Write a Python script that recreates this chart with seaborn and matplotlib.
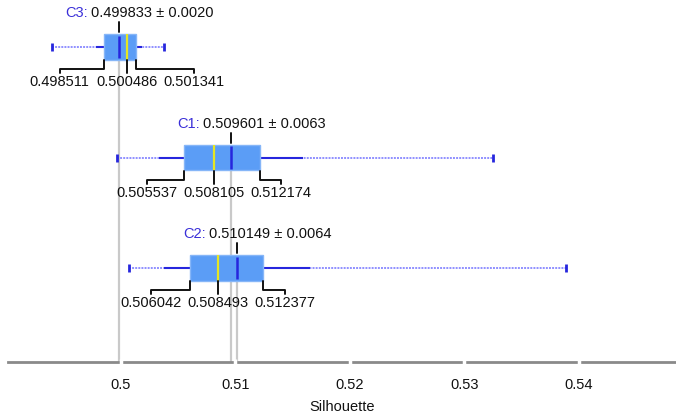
import matplotlib
matplotlib.use('Agg')
import matplotlib.pyplot as plt
import seaborn as sns
import pandas as pd

clusters = ['C3', 'C1', 'C2']
means = [0.499833, 0.509601, 0.510149]
stds = [0.0020, 0.0063, 0.0064]
q1s = [0.498511, 0.505537, 0.506042]
medians = [0.500486, 0.508105, 0.508493]
q3s = [0.501341, 0.512174, 0.512377]
mins = [0.49396, 0.49965, 0.50070]
maxs = [0.50376, 0.53246, 0.53885]
xticks = [0.5, 0.51, 0.52, 0.53, 0.54]
xtick_labels = ['0.5', '0.51', '0.52', '0.53', '0.54']

BOX = '#5b9df6'
DARK = '#2626dd'
LIGHT = '#8f8fff'
FS = 10.5


def main():
    sns.set_theme(style='white')
    plt.rcParams['font.family'] = ['Liberation Sans', 'DejaVu Sans']

    df = pd.DataFrame({'cluster': clusters, 'mean': means, 'std': stds, 'q1': q1s,
                       'median': medians, 'q3': q3s, 'min': mins, 'max': maxs})
    df['y'] = range(len(df))

    fig = plt.figure(figsize=(6.76, 4.17), dpi=100)
    ax = fig.add_axes([8 / 676, 55 / 417, 668 / 676, 362 / 417])
    ylo, yhi = 2.85, -0.425

    for _, r in df.iterrows():
        y = r['y']
        # gray mean line down to the axis
        ax.vlines(r['mean'], y, ylo, color='#c9c9c9', lw=1.6, zorder=1)
        # min-max dotted
        ax.hlines(y, r['min'], r['max'], color=LIGHT, lw=1.4, ls=(0, (1, 0.6)), zorder=2)
        # mean +- std
        ax.hlines(y, r['mean'] - r['std'], r['mean'] + r['std'], color=DARK, lw=1.5, zorder=2)
        ax.barh(y, r['q3'] - r['q1'], left=r['q1'], height=0.235, color=BOX,
                edgecolor='#86b6f8', lw=1, zorder=3)
        ax.vlines(r['median'], y - 0.117, y + 0.117, color='#e6e622', lw=1.6, zorder=4)
        ax.vlines(r['mean'], y - 0.1, y + 0.1, color=DARK, lw=1.8, zorder=5)

    caps = pd.DataFrame({'x': mins + maxs, 'y': list(df['y']) * 2})
    sns.scatterplot(data=caps, x='x', y='y', marker='|', s=40, color=DARK,
                    linewidth=2, ax=ax, zorder=5, legend=False)

    ax.set_xlim(0.5 - 113 / 11450, 0.5 + 555 / 11450)
    ax.set_ylim(ylo, yhi)
    fig.canvas.draw()

    def px(x, y):
        return ax.transData.transform((x, y))

    inv = ax.transData.inverted()
    kw = dict(color='#111111', lw=1.4, zorder=6, clip_on=False)
    for _, r in df.iterrows():
        y = r['y']
        mx, my = px(r['mean'], y)
        # title
        ax.annotate(r['cluster'] + ':', xy=(mx - 31, my + 34), xycoords='figure pixels',
                    ha='right', va='center', color='#3a2fd8', fontsize=FS)
        ax.annotate(f"{r['mean']:.6f} \u00b1 {r['std']:.4f}", xy=(mx - 28, my + 34),
                    xycoords='figure pixels', ha='left', va='center', color='#111111', fontsize=FS)
        # tick from title to box
        a = inv.transform((mx, my + 25))
        b = inv.transform((mx, my + 15))
        ax.plot([a[0], b[0]], [a[1], b[1]], **kw)

        medx, _ = px(r['median'], y)
        q1x, _ = px(r['q1'], y)
        q3x, _ = px(r['q3'], y)
        lx, rx = medx - 67, medx + 67
        pts = [
            [(q1x, my - 13), (q1x, my - 22), (lx, my - 22), (lx, my - 26)],
            [(medx, my - 13), (medx, my - 26)],
            [(q3x, my - 13), (q3x, my - 22), (rx, my - 22), (rx, my - 26)],
        ]
        for seg in pts:
            d = inv.transform(seg)
            ax.plot(d[:, 0], d[:, 1], **kw)
        for xx, val in zip([lx, medx, rx], [r['q1'], r['median'], r['q3']]):
            ax.annotate(f'{val:.6f}', xy=(xx, my - 35), xycoords='figure pixels',
                        ha='center', va='center', color='#111111', fontsize=FS)

    sns.despine(ax=ax, left=True, top=True, right=True)
    ax.spines['bottom'].set_color('#8a8a8a')
    ax.spines['bottom'].set_linewidth(2)
    ax.spines['bottom'].set_zorder(2)
    ax.xaxis.set_zorder(3)
    ax.set_yticks([])
    ax.set_xticks(xticks)
    ax.set_xticklabels(xtick_labels)
    ax.tick_params(axis='x', bottom=True, color='white', width=2.5, length=5,
                   direction='inout', pad=9, labelsize=FS, labelcolor='#111111')
    ax.set_xlabel('Silhouette', fontsize=FS, color='#111111', labelpad=6)
    ax.set_ylabel('')
    plt.savefig('out.png', dpi=100)


if __name__ == '__main__':
    main()
